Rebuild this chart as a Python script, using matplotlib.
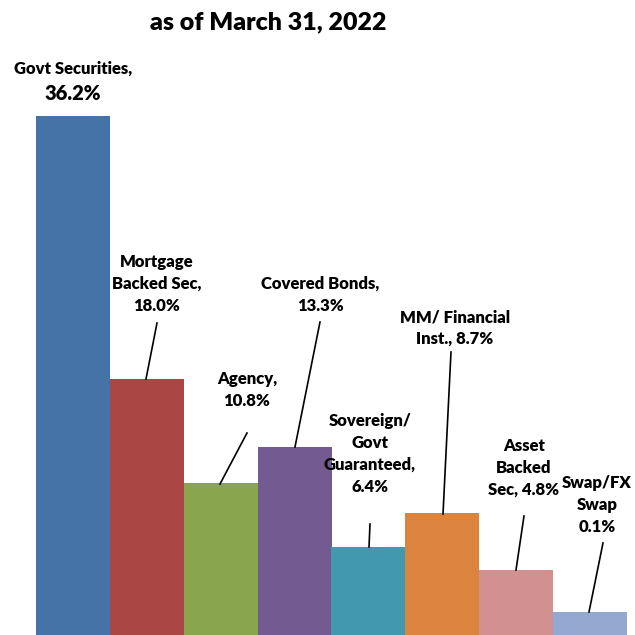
import matplotlib
matplotlib.use("Agg")
import matplotlib.pyplot as plt

categories = ["Govt Securities", "Mortgage Backed Sec", "Agency", "Covered Bonds",
              "Sovereign/ Govt Guaranteed", "MM/ Financial Inst.", "Asset Backed Sec", "Swap/FX Swap"]
bar_heights = [36.2, 18.0, 10.8, 13.3, 6.4, 8.7, 4.8, 1.85]
label_texts = ["Govt Securities,", "Mortgage\nBacked Sec,\n18.0%", "Agency,\n10.8%",
               "Covered Bonds,\n13.3%", "Sovereign/\nGovt\nGuaranteed,\n6.4%",
               "MM/ Financial\nInst., 8.7%", "Asset\nBacked\nSec, 4.8%", "Swap/FX\nSwap\n0.1%"]
colors = ["#4572A7", "#AA4643", "#89A54E", "#735A90", "#4198AF", "#DB843D", "#D39090", "#93A9CF"]
title = "as of March 31, 2022"

FONT = "Lato"
WEIGHT = "heavy"
W = H = 635
fig = plt.figure(figsize=(6.35, 6.35), dpi=100)

def fx(px):
    return px / W

def fy(py):
    return 1 - py / H

# axes: bars from 36 to 627 px, baseline at y=639 px, ylim top 40 at y=61
ax = fig.add_axes([fx(36), fy(639), fx(627) - fx(36), fy(61) - fy(639)])
x = list(range(len(categories)))
ax.bar(x, bar_heights, width=1.0, color=colors, linewidth=0)
ax.set_xlim(-0.5, len(categories) - 0.5)
ax.set_ylim(0, 40)
ax.axis("off")

fig.text(fx(268), fy(22), title, ha="center", va="center", fontsize=18,
         fontweight=WEIGHT, family=FONT)

# label positions (pixel centers) and leader lines
label_pos = [(73, 69), (157, 284), (247, 390), (320, 295), (370, 454), (455, 328), (524, 468), (597, 505)]
leaders = [None, ((157, 323), (146, 379)), ((247, 433), (220, 484)), ((320, 322), (295, 447)),
           ((370, 524), (369, 547)), ((451, 352), (443, 514)), ((524, 516), (516, 570)),
           ((603, 543), (589, 612))]

for i, (txt, (px, py)) in enumerate(zip(label_texts, label_pos)):
    fig.text(fx(px), fy(py), txt, ha="center", va="center", fontsize=12,
             fontweight=WEIGHT, family=FONT, linespacing=1.45)
    if leaders[i] is not None:
        (x0, y0), (x1, y1) = leaders[i]
        fig.add_artist(plt.Line2D([fx(x0), fx(x1)], [fy(y0), fy(y1)], color="black", lw=1.2))

fig.text(fx(73), fy(94), "36.2%", ha="center", va="center", fontsize=14.5,
         fontweight=WEIGHT, family=FONT)

fig.savefig("out.png", dpi=100)
